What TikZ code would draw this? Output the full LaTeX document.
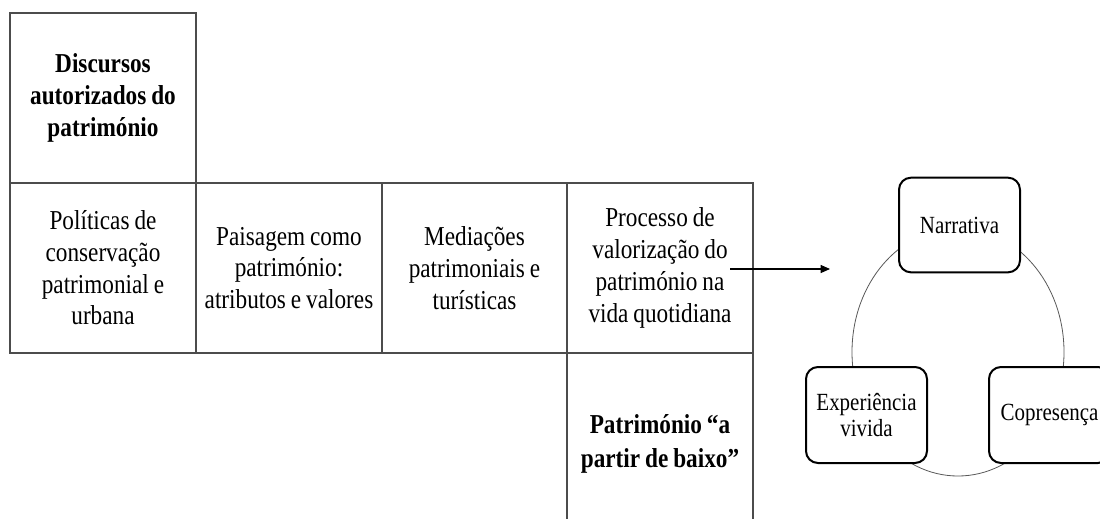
\documentclass[tikz,border=0pt]{standalone}
\usepackage{fontspec}
\setmainfont{Liberation Serif}[FakeStretch=0.85,WordSpace=0.85]
\usetikzlibrary{arrows.meta}
\begin{document}
\begin{tikzpicture}[x=0.75pt,y=-0.75pt,
  cell/.style={draw=black!70, line width=0.8pt, inner sep=0pt, align=center,
    minimum width=139.5pt, minimum height=127.5pt,
    font=\fontsize{20.5}{23.8}\selectfont},
  bcell/.style={cell, font=\fontsize{20.5}{24.2}\selectfont\bfseries},
  rbox/.style={draw=black, line width=1.5pt, rounded corners=9pt, fill=white,
    minimum width=90.75pt, minimum height=71pt, inner sep=0pt, align=center,
    font=\fontsize{18.5}{19}\selectfont},
  link/.style={draw=black!65, line width=0.6pt},
  arr/.style={draw=black, line width=0.8pt, -{Triangle[length=7pt,width=6pt]}}
]
\useasboundingbox (0,0) rectangle (1100,519);
\fill[white] (0,0) rectangle (1100,519);

% table
\node[bcell] (disc) at (103,98) {Discursos\\autorizados do\\património};
\node[cell] (pol) at (103,268) {Políticas de\\conservação\\patrimonial e\\urbana};
\node[cell] (pai) at (289,268) {Paisagem como\\património:\\atributos e valores};
\node[cell, minimum width=138.75pt] (med) at (474.5,268) {Mediações\\patrimoniais e\\turísticas};
\node[cell] (pro) at (660,268) {Processo de\\valorização do\\património na\\vida quotidiana};
\coordinate (patTL) at (567,353);
\coordinate (patBL) at (567,519);
\coordinate (patTR) at (753,353);
\coordinate (patBR) at (753,519);
\draw[draw=black!70, line width=0.8pt] (patTL) -- (patBL) (patTR) -- (patBR);
\node[align=center, inner sep=0pt, font=\fontsize{20.5}{26}\selectfont\bfseries] (pat) at (660,444) {Património “a\\partir de baixo”};

% arrow
\coordinate (arrS) at (730,269);
\coordinate (arrE) at (830,269);
\draw[arr] (arrS) -- (arrE);

% cycle
\draw[link] (958,352) ellipse [x radius=79.5pt, y radius=93pt];
\node[rbox] (narr) at (959.5,225) {Narrativa};
\node[rbox, minimum height=72pt] (exp) at (866.5,415) {Experiência\\vivida};
\node[rbox, minimum height=72pt] (cop) at (1049.5,415) {Copresença};
\end{tikzpicture}
\end{document}
